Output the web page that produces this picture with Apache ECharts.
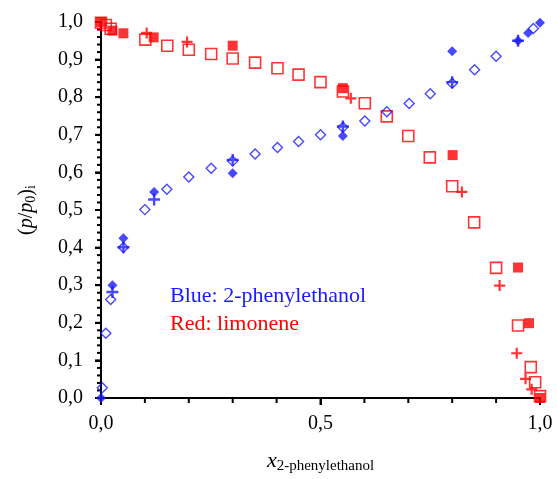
<!DOCTYPE html>
<html>
<head>
<meta charset="utf-8">
<script src="https://cdn.jsdelivr.net/npm/echarts@6/dist/echarts.min.js"></script>
<style>
  html, body { margin: 0; padding: 0; background: #fff; }
  #chart { width: 557px; height: 479px; }
</style>
</head>
<body>
<div id="chart"></div>
<script>
// blue: 2-phenylethanol
var blueOpen = [
  [0.003, 0.027], [0.011, 0.172], [0.022, 0.262], [0.051, 0.400], [0.100, 0.501],
  [0.150, 0.555], [0.200, 0.588], [0.251, 0.611], [0.300, 0.630], [0.351, 0.649],
  [0.402, 0.666], [0.450, 0.682], [0.500, 0.700], [0.551, 0.720], [0.601, 0.737],
  [0.651, 0.761], [0.702, 0.783], [0.750, 0.809], [0.800, 0.837], [0.851, 0.873],
  [0.900, 0.909], [0.985, 0.983]
]
var blueFilled = [
  [0.000, 0.000], [0.026, 0.300], [0.051, 0.425], [0.121, 0.548], [0.300, 0.598],
  [0.551, 0.697], [0.800, 0.922], [0.950, 0.950], [0.973, 0.971], [1.000, 0.998]
]
var bluePlus = [
  [0.026, 0.282], [0.051, 0.401], [0.121, 0.528], [0.300, 0.633], [0.551, 0.722],
  [0.800, 0.840], [0.950, 0.950]
]
// red: limonene
var redOpen = [
  [0.000, 0.998], [0.011, 0.992], [0.022, 0.982], [0.101, 0.953], [0.151, 0.937],
  [0.200, 0.926], [0.251, 0.915], [0.300, 0.903], [0.351, 0.892], [0.402, 0.877],
  [0.450, 0.860], [0.500, 0.840], [0.551, 0.815], [0.601, 0.784], [0.651, 0.749],
  [0.700, 0.697], [0.749, 0.640], [0.800, 0.563], [0.850, 0.467], [0.900, 0.346],
  [0.950, 0.193], [0.979, 0.082], [0.989, 0.042], [1.000, 0.005]
]
var redFilled = [
  [0.000, 1.000], [0.026, 0.977], [0.051, 0.970], [0.120, 0.959], [0.300, 0.937],
  [0.551, 0.824], [0.801, 0.646], [0.950, 0.347], [0.975, 0.199], [1.000, 0.000]
]
var redPlus = [
  [0.104, 0.971], [0.196, 0.947], [0.569, 0.797], [0.822, 0.548], [0.908, 0.299],
  [0.947, 0.119], [0.967, 0.051], [0.981, 0.023]
]
// tick positions (x every 0.1, y every 0.02)
var xTicks = [0, 0.1, 0.2, 0.3, 0.4, 0.5, 0.6, 0.7, 0.8, 0.9, 1]
var yTicks = [
  0, 0.02, 0.04, 0.06, 0.08, 0.1, 0.12, 0.14, 0.16, 0.18,
  0.2, 0.22, 0.24, 0.26, 0.28, 0.3, 0.32, 0.34, 0.36, 0.38,
  0.4, 0.42, 0.44, 0.46, 0.48, 0.5, 0.52, 0.54, 0.56, 0.58,
  0.6, 0.62, 0.64, 0.66, 0.68, 0.7, 0.72, 0.74, 0.76, 0.78,
  0.8, 0.82, 0.84, 0.86, 0.88, 0.9, 0.92, 0.94, 0.96, 0.98, 1
]

var BLUE = '#1a1aff'
var RED = '#ff0000'
var plusPath = 'path://M4,0h2v4h4v2h-4v4h-2v-4h-4v-2h4z'
var font = 'Liberation Serif'

function fmt(v) {
  return v.toFixed(1).replace('.', ',')
}

// y axis line + ticks, drawn as thin filled rects through the chart scale
function renderYFrame(params, api) {
  var p = api.coord([0, api.value(1)])
  var len = params.dataIndex % 5 === 0 ? 6 : 4
  var children = [
    { type: 'rect', shape: { x: p[0] - len, y: p[1] - 1, width: len, height: 2 }, style: { fill: '#000' } }
  ]
  if (params.dataIndex === 0) {
    var top = api.coord([0, 1])
    children.push({ type: 'rect', shape: { x: p[0] - 1, y: top[1] - 1, width: 2, height: p[1] - top[1] + 2 }, style: { fill: '#000' } })
  }
  return { type: 'group', children: children }
}

// x axis line + ticks
function renderXFrame(params, api) {
  var v = api.value(0)
  var p = api.coord([v, 0])
  var len = (v === 0 || v === 0.5 || v === 1) ? 7 : 5
  var children = [
    { type: 'rect', shape: { x: p[0] - 1, y: p[1], width: 2, height: len }, style: { fill: '#000' } }
  ]
  if (params.dataIndex === 0) {
    var right = api.coord([1, 0])
    children.push({ type: 'rect', shape: { x: p[0] - 1, y: p[1] - 1, width: right[0] - p[0] + 2, height: 2 }, style: { fill: '#000' } })
  }
  return { type: 'group', children: children }
}

var chart = echarts.init(document.getElementById('chart'))

var option = {
  animation: false,
  grid: { left: 101, right: 17, top: 22, bottom: 78 },
  xAxis: {
    type: 'value',
    min: 0,
    max: 1,
    interval: 0.5,
    name: '{x|x}{sub|2-phenylethanol}',
    nameLocation: 'middle',
    nameGap: 51,
    nameTextStyle: {
      rich: {
        x: { fontFamily: font, fontStyle: 'italic', fontSize: 22, color: '#000' },
        sub: { fontFamily: font, fontSize: 15, color: '#000', padding: [10, 0, 0, 0] }
      }
    },
    axisLine: { show: true, lineStyle: { color: '#000', width: 2 } },
    axisTick: { show: true, length: 7, lineStyle: { color: '#000', width: 2 } },
    splitLine: { show: false },
    axisLabel: { formatter: fmt, fontFamily: font, fontSize: 20, color: '#000', margin: 16 }
  },
  yAxis: {
    type: 'value',
    min: 0,
    max: 1,
    interval: 0.1,
    name: '{t|(}{p|p}{t|/}{p|p}{s|0}{t|)}{s|i}',
    nameLocation: 'middle',
    nameRotate: 90,
    nameGap: 63,
    nameTextStyle: {
      rich: {
        t: { fontFamily: font, fontSize: 20, color: '#000' },
        p: { fontFamily: font, fontSize: 20, fontStyle: 'italic', color: '#000' },
        s: { fontFamily: font, fontSize: 14, color: '#000', padding: [8, 0, 0, 0] }
      }
    },
    axisLine: { show: true, lineStyle: { color: '#000', width: 2 } },
    axisTick: { show: true, length: 6, lineStyle: { color: '#000', width: 2 } },
    splitLine: { show: false },
    axisLabel: { formatter: fmt, fontFamily: font, fontSize: 20, color: '#000', margin: 18 }
  },
  graphic: [
    { type: 'text', left: 170, top: 285, style: { text: 'Blue: 2-phenylethanol', font: '22px "Liberation Serif"', fill: BLUE } },
    { type: 'text', left: 170, top: 313, style: { text: 'Red: limonene', font: '22px "Liberation Serif"', fill: RED } }
  ],
  series: [
    {
      name: 'y frame',
      type: 'custom',
      silent: true,
      z: 1,
      renderItem: renderYFrame,
      data: yTicks.map(function (v) { return [0, v] })
    },
    {
      name: 'x frame',
      type: 'custom',
      silent: true,
      z: 1,
      renderItem: renderXFrame,
      data: xTicks.map(function (v) { return [v, 0] })
    },
    {
      name: 'limonene open',
      type: 'scatter',
      symbol: 'rect',
      symbolSize: 11,
      itemStyle: { color: 'rgba(255,255,255,0)', borderColor: RED, borderWidth: 1.6 },
      data: redOpen
    },
    {
      name: 'limonene filled',
      type: 'scatter',
      symbol: 'rect',
      symbolSize: 10,
      itemStyle: { color: RED },
      data: redFilled
    },
    {
      name: 'limonene plus',
      type: 'scatter',
      symbol: plusPath,
      symbolSize: 11,
      itemStyle: { color: RED },
      data: redPlus
    },
    {
      name: '2-phenylethanol open',
      type: 'scatter',
      symbol: 'diamond',
      symbolSize: 10,
      itemStyle: { color: 'rgba(255,255,255,0)', borderColor: BLUE, borderWidth: 1.4 },
      data: blueOpen
    },
    {
      name: '2-phenylethanol filled',
      type: 'scatter',
      symbol: 'diamond',
      symbolSize: 10,
      itemStyle: { color: BLUE },
      data: blueFilled
    },
    {
      name: '2-phenylethanol plus',
      type: 'scatter',
      symbol: plusPath,
      symbolSize: 12,
      itemStyle: { color: BLUE },
      data: bluePlus
    }
  ]
}

chart.setOption(option)
</script>
</body>
</html>
